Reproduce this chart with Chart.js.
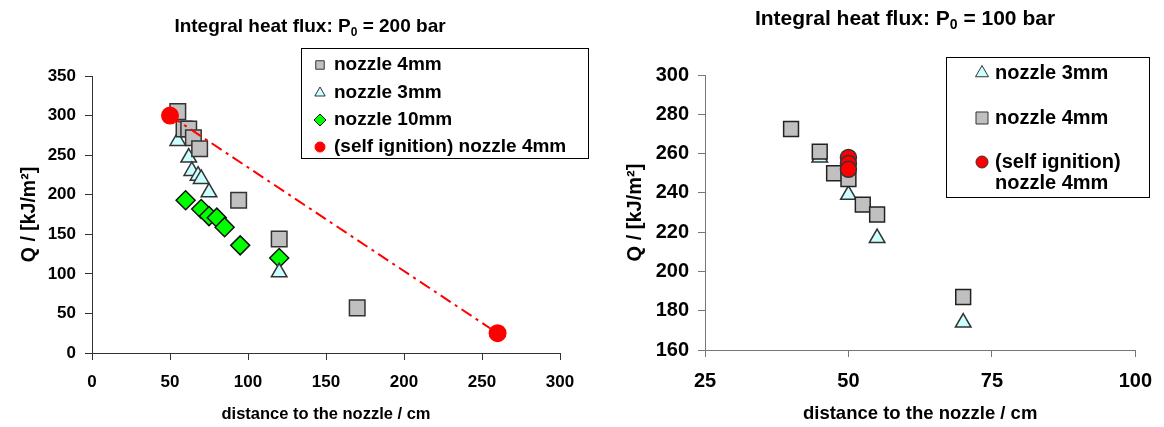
<!DOCTYPE html>
<html>
<head>
<meta charset="utf-8">
<script src="https://cdn.jsdelivr.net/npm/chart.js@4"></script>
<style>
  body { margin: 0; background: #fff; width: 1164px; height: 427px; overflow: hidden; position: relative; }
  .box { position: absolute; top: 0; height: 427px; }
  #leftBox { left: 0; width: 600px; }
  #rightBox { left: 600px; width: 564px; }
</style>
</head>
<body>
<div class="box" id="leftBox"><canvas id="chart200"></canvas></div>
<div class="box" id="rightBox"><canvas id="chart100"></canvas></div>
<script>
// P0 = 200 bar
const dist4mm200 = [55, 59, 62, 65, 69, 94, 120, 170];
const q4mm200 = [305, 283, 283, 272, 258, 193, 144, 57];
const dist3mm200 = [55, 62, 64, 68, 70, 75, 120];
const q3mm200 = [268, 247, 230, 224, 220, 203, 102];
const dist10mm200 = [60, 70, 75, 80, 85, 95, 120];
const q10mm200 = [193, 182, 173, 171, 159, 136, 120];
const distIgn200 = [50, 260];
const qIgn200 = [300, 25];

// P0 = 100 bar
const dist3mm100 = [45, 50, 55, 70];
const q3mm100 = [258, 239, 217, 174];
const dist4mm100 = [40, 45, 47.5, 50, 52.5, 55, 70];
const q4mm100 = [272.5, 261, 250, 247, 234, 229, 187];
const distIgn100 = [50, 50, 50];
const qIgn100 = [258, 255, 252];

const ticksX200 = [0, 300, 50];
const ticksY200 = [0, 350, 50];
const ticksX100 = [25, 100, 25];
const ticksY100 = [160, 300, 20];

const FONT = "'Liberation Sans', Arial, sans-serif";

function pts(xs, ys) {
  return xs.map((x, i) => ({ x: x, y: ys[i] }));
}

// title with subscript + boxed legend
const decorPlugin = {
  id: "decor",
  afterDraw(chart, args, opts) {
    const ctx = chart.ctx;
    ctx.save();
    // title
    const t = opts.title;
    const big = "bold " + t.size + "px " + FONT;
    const small = "bold " + Math.round(t.size * 0.65) + "px " + FONT;
    ctx.font = big;
    const w1 = ctx.measureText(t.before).width;
    const w3 = ctx.measureText(t.after).width;
    ctx.font = small;
    const w2 = ctx.measureText(t.sub).width;
    let x = t.x - (w1 + w2 + w3) / 2;
    ctx.fillStyle = "#000";
    ctx.textBaseline = "middle";
    ctx.textAlign = "left";
    ctx.font = big;
    ctx.fillText(t.before, x, t.y);
    x += w1;
    ctx.font = small;
    ctx.fillText(t.sub, x, t.y + t.size * 0.3);
    x += w2;
    ctx.font = big;
    ctx.fillText(t.after, x, t.y);

    // legend
    const lg = opts.legend;
    ctx.fillStyle = "#fff";
    ctx.fillRect(lg.left, lg.top, lg.width, lg.height);
    ctx.strokeStyle = "#000";
    ctx.lineWidth = 1;
    ctx.strokeRect(lg.left + 0.5, lg.top + 0.5, lg.width, lg.height);
    ctx.font = "bold " + lg.size + "px " + FONT;
    lg.items.forEach(function (it) {
      ctx.fillStyle = it.fill;
      ctx.strokeStyle = it.stroke;
      ctx.lineWidth = 1;
      Chart.helpers.drawPoint(ctx, { pointStyle: it.style, radius: it.radius, rotation: 0, borderWidth: 1 }, lg.markerX, it.y);
      ctx.fillStyle = "#000";
      it.text.forEach(function (line, k) {
        ctx.fillText(line, lg.textX, it.y + k * lg.lineGap);
      });
    });
    ctx.restore();
  }
};

function axis(range, fontSize, color, titleText, titleSize, titlePad, tickPad, fit) {
  return {
    type: "linear",
    min: range[0],
    max: range[1],
    ticks: { stepSize: range[2], color: "#000", padding: tickPad, font: { family: FONT, size: fontSize, weight: "bold" } },
    grid: { drawOnChartArea: false, drawTicks: true, tickLength: 7, color: color },
    border: { color: color, width: 1 },
    title: { display: true, text: titleText, color: "#000", padding: titlePad, font: { family: FONT, size: titleSize, weight: "bold" } },
    afterFit: fit
  };
}

// chart P0 = 200 bar
const ctx1 = document.getElementById("chart200").getContext("2d");
const chart200 = new Chart(ctx1, {
  type: "scatter",
  data: {
    datasets: [
      {
        label: "(self ignition) nozzle 4mm",
        data: pts(distIgn200, qIgn200),
        pointStyle: "circle",
        pointRadius: 8,
        backgroundColor: "#ff0000",
        borderColor: "#ff0000",
        showLine: true,
        borderWidth: 2,
        borderDash: [12, 5, 3, 5]
      },
      {
        label: "nozzle 4mm",
        data: pts(dist4mm200, q4mm200),
        pointStyle: "rect",
        pointRadius: 11,
        backgroundColor: "#c0c0c0",
        borderColor: "#333",
        borderWidth: 1.5
      },
      {
        label: "nozzle 3mm",
        data: pts(dist3mm200, q3mm200),
        pointStyle: "triangle",
        pointRadius: 9,
        backgroundColor: "#ccffff",
        borderColor: "#333",
        borderWidth: 1.5
      },
      {
        label: "nozzle 10mm",
        data: pts(dist10mm200, q10mm200),
        pointStyle: "rectRot",
        pointRadius: 9.5,
        backgroundColor: "#00ff00",
        borderColor: "#111",
        borderWidth: 1.5
      }
    ]
  },
  options: {
    responsive: true,
    maintainAspectRatio: false,
    animation: false,
    layout: { padding: { top: 76, right: 40, left: 0, bottom: 0 } },
    scales: {
      x: axis(ticksX200, 17, "#333", "distance to the nozzle / cm", 16.5, { top: 0, bottom: 3 }, 12, function (s) { s.height = 74; }),
      y: axis(ticksY200, 17, "#333", "Q / [kJ/m²]", 19.5, { top: 18, bottom: 0 }, 9, function (s) { s.width = 92; })
    },
    plugins: {
      legend: { display: false },
      tooltip: { enabled: false },
      decor: {
        title: { x: 310, y: 27, size: 19, before: "Integral heat flux: P", sub: "0", after: " = 200 bar" },
        legend: {
          left: 301, top: 48, width: 287, height: 110, size: 19, markerX: 320, textX: 334, lineGap: 20,
          items: [
            { style: "rect", radius: 6, fill: "#c0c0c0", stroke: "#333", y: 65, text: ["nozzle 4mm"] },
            { style: "triangle", radius: 6, fill: "#ccffff", stroke: "#333", y: 93, text: ["nozzle 3mm"] },
            { style: "rectRot", radius: 6, fill: "#00ff00", stroke: "#111", y: 120, text: ["nozzle 10mm"] },
            { style: "circle", radius: 5, fill: "#ff0000", stroke: "#ff0000", y: 147, text: ["(self ignition) nozzle 4mm"] }
          ]
        }
      }
    }
  },
  plugins: [decorPlugin]
});

// chart P0 = 100 bar
const ctx2 = document.getElementById("chart100").getContext("2d");
const chart100 = new Chart(ctx2, {
  type: "scatter",
  data: {
    datasets: [
      {
        label: "(self ignition) nozzle 4mm",
        data: pts(distIgn100, qIgn100),
        pointStyle: "circle",
        pointRadius: 8,
        backgroundColor: "#ff0000",
        borderColor: "#333",
        borderWidth: 1.5
      },
      {
        label: "nozzle 4mm",
        data: pts(dist4mm100, q4mm100),
        pointStyle: "rect",
        pointRadius: 10.5,
        backgroundColor: "#c0c0c0",
        borderColor: "#222",
        borderWidth: 1.5
      },
      {
        label: "nozzle 3mm",
        data: pts(dist3mm100, q3mm100),
        pointStyle: "triangle",
        pointRadius: 9,
        backgroundColor: "#ccffff",
        borderColor: "#333",
        borderWidth: 1.5
      }
    ]
  },
  options: {
    responsive: true,
    maintainAspectRatio: false,
    animation: false,
    layout: { padding: { top: 75, right: 23, left: 0, bottom: 0 } },
    scales: {
      x: axis(ticksX100, 20, "#777", "distance to the nozzle / cm", 18.5, { top: 0, bottom: 2 }, 12, function (s) { s.height = 77; }),
      y: axis(ticksY100, 20, "#777", "Q / [kJ/m²]", 20, { top: 23, bottom: 0 }, 9, function (s) { s.width = 105; })
    },
    plugins: {
      legend: { display: false },
      tooltip: { enabled: false },
      decor: {
        title: { x: 305, y: 19, size: 21, before: "Integral heat flux: P", sub: "0", after: " = 100 bar" },
        legend: {
          left: 346, top: 57, width: 203, height: 140, size: 20, markerX: 382, textX: 395, lineGap: 21,
          items: [
            { style: "triangle", radius: 7.5, fill: "#ccffff", stroke: "#333", y: 73, text: ["nozzle 3mm"] },
            { style: "rect", radius: 8.5, fill: "#c0c0c0", stroke: "#333", y: 118, text: ["nozzle 4mm"] },
            { style: "circle", radius: 6, fill: "#ff0000", stroke: "#333", y: 162, text: ["(self ignition)", "nozzle 4mm"] }
          ]
        }
      }
    }
  },
  plugins: [decorPlugin]
});
</script>
</body>
</html>
